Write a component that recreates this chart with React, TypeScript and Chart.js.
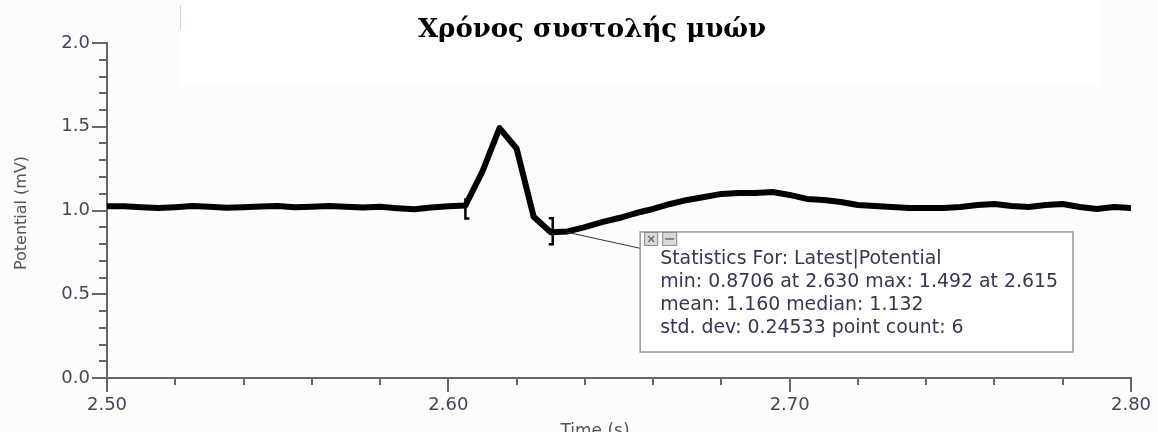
import { useEffect, useRef } from "react";
import { Chart, registerables } from "chart.js";

Chart.register(...registerables);

// Recorded trace: time (s) and potential (mV), sampled every 5 ms
const timeS = [
  2.5, 2.505, 2.51, 2.515, 2.52, 2.525, 2.53, 2.535, 2.54, 2.545,
  2.55, 2.555, 2.56, 2.565, 2.57, 2.575, 2.58, 2.585, 2.59, 2.595,
  2.6, 2.605, 2.61, 2.615, 2.62, 2.625, 2.63, 2.635, 2.64, 2.645,
  2.65, 2.655, 2.66, 2.665, 2.67, 2.675, 2.68, 2.685, 2.69, 2.695,
  2.7, 2.705, 2.71, 2.715, 2.72, 2.725, 2.73, 2.735, 2.74, 2.745,
  2.75, 2.755, 2.76, 2.765, 2.77, 2.775, 2.78, 2.785, 2.79, 2.795,
  2.8,
];

const potentialMv = [
  1.025, 1.025, 1.02, 1.015, 1.02, 1.027, 1.022, 1.016, 1.02, 1.024,
  1.027, 1.019, 1.022, 1.027, 1.022, 1.018, 1.022, 1.014, 1.008, 1.018,
  1.025, 1.03, 1.234, 1.492, 1.37, 0.963, 0.8706, 0.875, 0.901, 0.931,
  0.955, 0.985, 1.009, 1.039, 1.063, 1.081, 1.099, 1.104, 1.104, 1.11,
  1.093, 1.069, 1.063, 1.051, 1.033, 1.027, 1.021, 1.015, 1.015, 1.015,
  1.021, 1.033, 1.039, 1.027, 1.021, 1.033, 1.039, 1.021, 1.009, 1.021,
  1.015,
];

const xMajorTicks = [2.5, 2.6, 2.7, 2.8];
const yMajorTicks = [0, 0.5, 1.0, 1.5, 2.0];

const chartTitle = "Χρόνος συστολής μυών";
const xAxisTitle = "Time (s)";
const yAxisTitle = "Potential (mV)";

// Selected region for the statistics readout
const selStart = 2.605;
const selEnd = 2.63;

const statsLines = [
  "Statistics For: Latest|Potential",
  "min: 0.8706 at 2.630 max: 1.492 at 2.615",
  "mean: 1.160 median: 1.132",
  "std. dev: 0.24533 point count: 6",
];

// Statistics box corners in data units
const statsBoxFrom = { x: 2.6562, y: 0.872 };
const statsBoxTo = { x: 2.783, y: 0.155 };

const axisColor = "#666666";
const labelColor = "#46445a";
const statsColor = "#38355a";
const sansFont = "'DejaVu Sans', sans-serif";

const decorPlugin = {
  id: "decor",
  beforeDraw(chart: any) {
    const { ctx, width, height } = chart;
    ctx.save();
    ctx.fillStyle = "#fcfcfc";
    ctx.fillRect(0, 0, width, height);
    // title text box
    ctx.fillStyle = "#ffffff";
    ctx.fillRect(180, 0, 920, 86);
    ctx.strokeStyle = "rgba(230,150,90,0.5)";
    ctx.lineWidth = 1;
    ctx.beginPath();
    ctx.moveTo(180.5, 5);
    ctx.lineTo(180.5, 30);
    ctx.stroke();
    ctx.restore();
  },
  afterDraw(chart: any) {
    const { ctx } = chart;
    const xs = chart.scales.x;
    const ys = chart.scales.y;
    const area = chart.chartArea;
    ctx.save();

    // axis tick marks: long at labelled values, short in between
    ctx.strokeStyle = axisColor;
    ctx.lineWidth = 2;
    ctx.beginPath();
    for (let i = 0; i <= 20; i++) {
      const v = i * 0.1;
      const py = Math.round(ys.getPixelForValue(v));
      const major = i % 5 === 0;
      ctx.moveTo(area.left, py);
      ctx.lineTo(area.left - (major ? 15 : 8), py);
    }
    for (let i = 0; i <= 15; i++) {
      const v = 2.5 + i * 0.02;
      const px = Math.round(xs.getPixelForValue(v));
      const major = i % 5 === 0;
      ctx.moveTo(px, area.bottom);
      ctx.lineTo(px, area.bottom + (major ? 14 : 7));
    }
    ctx.stroke();

    // selection brackets
    const iStart = timeS.indexOf(selStart);
    const iEnd = timeS.indexOf(selEnd);
    const sx = xs.getPixelForValue(selStart);
    const sy = ys.getPixelForValue(potentialMv[iStart]);
    const ex = xs.getPixelForValue(selEnd);
    const ey = ys.getPixelForValue(potentialMv[iEnd]);
    ctx.strokeStyle = "#000";
    ctx.lineWidth = 2.5;
    ctx.beginPath();
    ctx.moveTo(sx + 4, sy - 6);
    ctx.lineTo(sx, sy - 6);
    ctx.lineTo(sx, sy + 13);
    ctx.lineTo(sx + 4, sy + 13);
    ctx.moveTo(ex - 2, ey - 14);
    ctx.lineTo(ex + 2, ey - 14);
    ctx.lineTo(ex + 2, ey + 12);
    ctx.lineTo(ex - 2, ey + 12);
    ctx.stroke();

    // statistics box
    const bx0 = xs.getPixelForValue(statsBoxFrom.x);
    const by0 = ys.getPixelForValue(statsBoxFrom.y);
    const bx1 = xs.getPixelForValue(statsBoxTo.x);
    const by1 = ys.getPixelForValue(statsBoxTo.y);

    // leader line from the minimum to the box
    ctx.strokeStyle = "#333";
    ctx.lineWidth = 1;
    ctx.beginPath();
    ctx.moveTo(ex + 16, ey);
    ctx.lineTo(bx0 + 3, by0 + 17);
    ctx.stroke();

    ctx.fillStyle = "#ffffff";
    ctx.fillRect(bx0, by0, bx1 - bx0, by1 - by0);
    ctx.strokeStyle = "#9a9a9a";
    ctx.lineWidth = 1.5;
    ctx.strokeRect(bx0, by0, bx1 - bx0, by1 - by0);

    // close / minimise buttons
    const btns = [
      { x: bx0 + 4, w: 14 },
      { x: bx0 + 22, w: 15 },
    ];
    btns.forEach((b, k) => {
      ctx.fillStyle = "#d9d9d9";
      ctx.fillRect(b.x, by0, b.w, 14);
      ctx.strokeStyle = "#8a8a8a";
      ctx.lineWidth = 1;
      ctx.strokeRect(b.x + 0.5, by0 + 0.5, b.w - 1, 13);
      ctx.strokeStyle = "#6a6a6a";
      ctx.lineWidth = 1.5;
      ctx.beginPath();
      if (k === 0) {
        ctx.moveTo(b.x + 4, by0 + 4);
        ctx.lineTo(b.x + b.w - 4, by0 + 10);
        ctx.moveTo(b.x + b.w - 4, by0 + 4);
        ctx.lineTo(b.x + 4, by0 + 10);
      } else {
        ctx.moveTo(b.x + 3, by0 + 7);
        ctx.lineTo(b.x + b.w - 3, by0 + 7);
      }
      ctx.stroke();
    });

    ctx.fillStyle = statsColor;
    ctx.font = `18.9px ${sansFont}`;
    ctx.textAlign = "left";
    ctx.textBaseline = "alphabetic";
    statsLines.forEach((line, i) => {
      ctx.fillText(line, bx0 + 20, by0 + 32 + i * 23);
    });

    // chart title
    ctx.fillStyle = "#000";
    ctx.font = "bold 26px 'DejaVu Serif', serif";
    ctx.textAlign = "center";
    ctx.fillText(chartTitle, 592, 37);

    // axis titles
    ctx.fillStyle = "#555";
    ctx.font = `17px ${sansFont}`;
    ctx.fillText(xAxisTitle, 595, 436);
    ctx.translate(26, 213);
    ctx.rotate(-Math.PI / 2);
    ctx.font = `16px ${sansFont}`;
    ctx.fillText(yAxisTitle, 0, 0);

    ctx.restore();
  },
};

export default function App() {
  const canvasRef = useRef<HTMLCanvasElement | null>(null);

  useEffect(() => {
    document.body.style.margin = "0";
    const canvas = canvasRef.current;
    if (!canvas) return;
    const chart = new Chart(canvas, {
      type: "line",
      data: {
        datasets: [
          {
            data: timeS.map((t, i) => ({ x: t, y: potentialMv[i] })),
            borderColor: "#000",
            borderWidth: 6,
            borderJoinStyle: "round",
            borderCapStyle: "round",
            pointRadius: 0,
            tension: 0,
            fill: false,
          },
        ],
      },
      options: {
        animation: false,
        responsive: false,
        maintainAspectRatio: false,
        layout: { padding: { top: 43, right: 27, bottom: 0, left: 0 } },
        plugins: {
          legend: { display: false },
          tooltip: { enabled: false },
          title: { display: false },
        },
        scales: {
          x: {
            type: "linear",
            min: 2.5,
            max: 2.8,
            afterBuildTicks: (s: any) => {
              s.ticks = xMajorTicks.map((v) => ({ value: v }));
            },
            afterFit: (s: any) => {
              s.height = 54;
            },
            ticks: {
              callback: (v: any) => Number(v).toFixed(2),
              font: { family: sansFont, size: 18 },
              color: labelColor,
              padding: 4,
              maxRotation: 0,
              autoSkip: false,
            },
            grid: { display: false, drawTicks: true, tickLength: 13 },
            border: { display: true, color: axisColor, width: 2 },
          },
          y: {
            type: "linear",
            min: 0,
            max: 2,
            afterBuildTicks: (s: any) => {
              s.ticks = yMajorTicks.map((v) => ({ value: v }));
            },
            afterFit: (s: any) => {
              s.width = 107;
            },
            ticks: {
              callback: (v: any) => Number(v).toFixed(1),
              font: { family: sansFont, size: 18 },
              color: labelColor,
              padding: 2,
              autoSkip: false,
            },
            grid: { display: false, drawTicks: true, tickLength: 15 },
            border: { display: true, color: axisColor, width: 2 },
          },
        },
      },
      plugins: [decorPlugin],
    });
    return () => chart.destroy();
  }, []);

  return (
    <canvas
      ref={canvasRef}
      width={1158}
      height={432}
      style={{ display: "block", width: 1158, height: 432 }}
    />
  );
}
